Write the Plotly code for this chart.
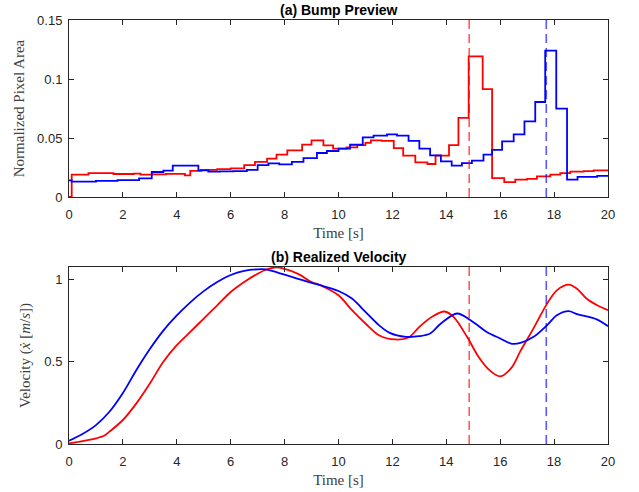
import plotly.graph_objects as go

# (a) bump preview: step start times and normalized pixel area
red_step_t = [0, 0.1, 0.72, 1.65, 2.4, 2.65, 3.1, 3.6, 4.3, 4.5, 4.9, 5.5, 6.0, 6.5, 6.9,
              7.35, 7.7, 8.1, 8.65, 9.0, 9.44, 9.8, 10.3, 10.7, 11.0, 11.2, 11.6, 12.05,
              12.4, 12.85, 13.3, 13.6, 14.1, 14.45, 14.83, 15.35, 15.7, 16.15, 16.56,
              17.0, 17.36, 17.86, 18.23, 18.6, 19.1, 19.47, 20.0]
red_area = [0, 0.0189, 0.0203, 0.0195, 0.0199, 0.0190, 0.0192, 0.0196, 0.0183, 0.0221,
            0.0230, 0.0237, 0.0243, 0.0270, 0.0297, 0.0325, 0.0360, 0.0395, 0.0444,
            0.0480, 0.0438, 0.0410, 0.0420, 0.0440, 0.0458, 0.0480, 0.0475, 0.0415,
            0.0350, 0.0294, 0.0280, 0.0350, 0.0440, 0.0670, 0.1192, 0.0915, 0.0160,
            0.0127, 0.0147, 0.0153, 0.0175, 0.0189, 0.0203, 0.0215, 0.0220, 0.0226, 0.0230]

blue_step_t = [0, 0.1, 1.0, 1.8, 2.6, 3.07, 3.5, 3.85, 4.8, 5.17, 5.6, 6.1, 6.6, 7.0, 7.4,
               7.8, 8.27, 8.7, 9.2, 9.57, 10.0, 10.43, 10.9, 11.3, 11.8, 12.17, 12.6, 13.0,
               13.4, 13.8, 14.2, 14.58, 14.95, 15.38, 15.7, 16.07, 16.5, 16.9, 17.3,
               17.67, 18.08, 18.48, 18.87, 19.6, 20.0]
blue_area = [0.0141, 0.0130, 0.0136, 0.0144, 0.0158, 0.0212, 0.0223, 0.0266, 0.0226,
             0.0215, 0.0217, 0.0220, 0.0230, 0.0270, 0.0285, 0.0277, 0.0297, 0.0330,
             0.0373, 0.0390, 0.0410, 0.0443, 0.0506, 0.0520, 0.0531, 0.0520, 0.0475,
             0.0410, 0.0353, 0.0302, 0.0266, 0.0288, 0.0308, 0.0359, 0.0400, 0.0472,
             0.0531, 0.0641, 0.0805, 0.1240, 0.0749, 0.0147, 0.0170, 0.0180, 0.0180]

# (b) realized velocity
red_vel_t = [0, 0.5, 1, 1.3, 1.5, 2, 2.5, 3, 3.5, 4, 4.5, 5, 5.5, 6, 6.5, 7, 7.3, 7.7, 8,
             8.5, 9, 9.32, 10, 10.5, 11, 11.5, 12.1, 12.6, 13, 13.5, 13.93, 14.27, 14.77,
             15.2, 15.63, 16, 16.4, 16.75, 17.24, 17.74, 18.1, 18.54, 18.85, 19.2, 19.6, 20]
red_vel = [0.004, 0.018, 0.034, 0.05, 0.075, 0.146, 0.247, 0.368, 0.5, 0.601, 0.682,
           0.763, 0.844, 0.925, 0.986, 1.036, 1.06, 1.075, 1.065, 1.035, 0.985, 0.966,
           0.905, 0.814, 0.733, 0.662, 0.636, 0.648, 0.713, 0.777, 0.806, 0.773, 0.652,
           0.53, 0.445, 0.412, 0.46, 0.565, 0.705, 0.854, 0.935, 0.97, 0.945, 0.885,
           0.844, 0.814]

blue_vel_t = [0, 0.5, 1, 1.5, 2, 2.5, 3, 3.5, 4, 4.5, 5, 5.5, 6, 6.5, 7, 7.3, 8, 8.5, 9,
              9.32, 10, 10.5, 11, 11.5, 11.9, 12.5, 13, 13.4, 13.8, 14.4, 14.9, 15.5, 16,
              16.4, 16.75, 17.24, 17.74, 18.1, 18.54, 18.85, 19.6, 20]
blue_vel = [0.02, 0.061, 0.115, 0.196, 0.31, 0.45, 0.578, 0.69, 0.782, 0.862, 0.93,
            0.985, 1.028, 1.053, 1.063, 1.062, 1.03, 1.005, 0.98, 0.966, 0.931, 0.885,
            0.804, 0.723, 0.676, 0.652, 0.656, 0.672, 0.733, 0.794, 0.753, 0.682, 0.642,
            0.611, 0.615, 0.652, 0.723, 0.783, 0.808, 0.79, 0.757, 0.717]

red_marker_t = 14.85
blue_marker_t = 17.71

RED = "#ff0000"
BLUE = "#0000ff"
AX = "#262626"
LABEL = "#404040"

fig = go.Figure()
fig.add_scatter(x=red_step_t, y=red_area, line_shape="hv", mode="lines",
                line=dict(color=RED, width=1.8), xaxis="x", yaxis="y")
fig.add_scatter(x=blue_step_t, y=blue_area, line_shape="hv", mode="lines",
                line=dict(color=BLUE, width=1.8), xaxis="x", yaxis="y")
fig.add_scatter(x=red_vel_t, y=red_vel, mode="lines", line_shape="spline",
                line=dict(color=RED, width=1.8, smoothing=0.9), xaxis="x2", yaxis="y2")
fig.add_scatter(x=blue_vel_t, y=blue_vel, mode="lines", line_shape="spline",
                line=dict(color=BLUE, width=1.8, smoothing=0.9), xaxis="x2", yaxis="y2")

for xr, yr in [("x", "y"), ("x2", "y2")]:
    for t, c in [(red_marker_t, "rgba(255,0,0,0.65)"), (blue_marker_t, "rgba(0,0,255,0.65)")]:
        fig.add_shape(type="line", xref=xr, yref=yr + " domain", x0=t, x1=t, y0=0, y1=1,
                      line=dict(color=c, width=1.6, dash="9px,5px"))

axis_common = dict(showgrid=False, zeroline=False, ticks="inside", ticklen=5,
                   tickcolor=AX, linecolor=AX, linewidth=1, mirror="ticks",
                   showline=True, automargin=False,
                   tickfont=dict(family="Liberation Sans", size=13, color=AX))
xlabel_font = dict(family="Liberation Serif", size=15, color=LABEL)
tick_x = list(range(0, 21, 2))

fig.update_layout(
    width=639, height=492, showlegend=False,
    plot_bgcolor="white", paper_bgcolor="white",
    margin=dict(l=69, r=31, t=20, b=48),
    xaxis=dict(range=[0, 20], tickvals=tick_x, anchor="y", domain=[0, 1],
               ticklabelstandoff=5,
               title=dict(text="Time [s]", standoff=6, font=xlabel_font),
               **axis_common),
    yaxis=dict(range=[0, 0.15], tickvals=[0, 0.05, 0.1, 0.15],
               ticktext=["0", "0.05", "0.1", "0.15"], domain=[0.5825, 1], anchor="x",
               ticklabelstandoff=3,
               title=dict(text="Normalized Pixel Area", standoff=8, font=xlabel_font),
               **axis_common),
    xaxis2=dict(range=[0, 20], tickvals=tick_x, anchor="y2", domain=[0, 1],
                ticklabelstandoff=5,
                title=dict(text="Time [s]", standoff=6, font=xlabel_font),
                **axis_common),
    yaxis2=dict(range=[0, 1.077], tickvals=[0, 0.5, 1], ticktext=["0", "0.5", "1"],
                domain=[0, 0.4175], anchor="x2", ticklabelstandoff=3,
                title=dict(text="Velocity (<i>ẋ</i> [<i>m</i>/<i>s</i>])", standoff=10,
                           font=xlabel_font),
                **axis_common),
    annotations=[
        dict(text="<b>(a) Bump Preview</b>", xref="x domain", yref="y domain", x=0.5, y=1,
             yanchor="bottom", showarrow=False, yshift=0,
             font=dict(family="Liberation Sans", size=14, color="black")),
        dict(text="<b>(b) Realized Velocity</b>", xref="x2 domain", yref="y2 domain", x=0.5,
             y=1, yanchor="bottom", showarrow=False, yshift=0,
             font=dict(family="Liberation Sans", size=14, color="black")),
    ],
)

# the page body has a default 8px margin; drop it so the figure fills the window
fig.write_html("out.html", config={"displayModeBar": False},
               post_script="document.body.style.margin='0';")
